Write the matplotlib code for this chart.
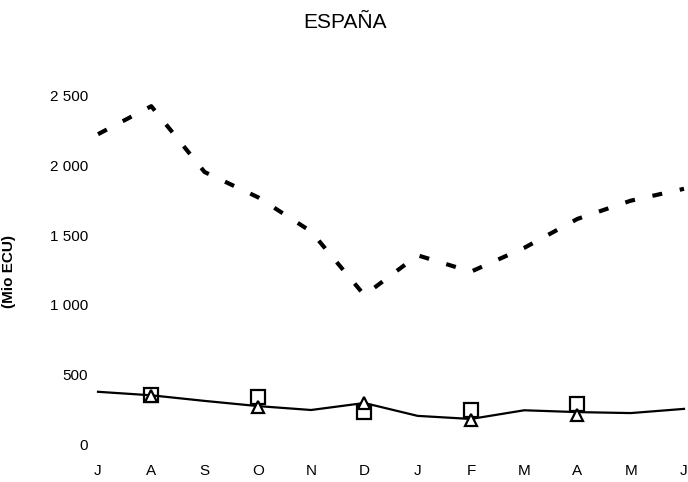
import matplotlib
matplotlib.use("Agg")
import matplotlib.pyplot as plt

plt.rcParams['font.family'] = ['Liberation Sans', 'DejaVu Sans']

# monthly values, Mio ECU
months = ['J', 'A', 'S', 'O', 'N', 'D', 'J', 'F', 'M', 'A', 'M', 'J']
total = [2220, 2420, 1950, 1770, 1525, 1070, 1355, 1238, 1408, 1615, 1745, 1830]
monthly = [380, 355, 315, 278, 250, 300, 208, 186, 248, 235, 228, 258]

# bi-monthly points (A, O, D, F, A)
point_idx = [1, 3, 5, 7, 9]
squares = [355, 345, 238, 252, 295]
triangles = [352, 268, 302, 176, 215]

yticks = [0, 500, 1000, 1500, 2000, 2500]
ytick_labels = ['0', '500', '1 000', '1 500', '2 000', '2 500']

fig = plt.figure(figsize=(6.88, 4.82), dpi=100)
ax = fig.add_axes([98 / 688, 37 / 482, 586 / 688, 378 / 482])

x = list(range(len(months)))
ax.plot(x, total, color='black', lw=3, linestyle=(0, (2.4, 4.3)),
        dash_capstyle='butt', clip_on=False)
ax.plot(x, monthly, color='black', lw=1.6, clip_on=False)
ax.plot(point_idx, squares, linestyle='none', marker='s', markersize=10,
        markerfacecolor='none', markeredgecolor='black', markeredgewidth=1.6)
ax.plot(point_idx, triangles, linestyle='none', marker='^', markersize=9,
        markerfacecolor='white', markeredgecolor='black', markeredgewidth=1.6)

ax.set_xlim(0, 11)
ax.set_ylim(0, 2700)
ax.set_xticks(x)
ax.set_xticklabels(months)
ax.set_yticks(yticks)
ax.set_yticklabels(ytick_labels)
ax.tick_params(axis='both', length=0, labelsize=11)
ax.tick_params(axis='x', pad=14)
ax.tick_params(axis='y', pad=7)
for s in ax.spines.values():
    s.set_visible(False)

ax.set_ylabel('(Mio ECU)', fontsize=11, fontweight='bold')
ax.yaxis.set_label_coords(-0.14, 0.46)

fig.text(345 / 688, 1 - 28 / 482, 'ESPAÑA', ha='center', va='baseline', fontsize=15)

fig.savefig('out.png', dpi=100)
